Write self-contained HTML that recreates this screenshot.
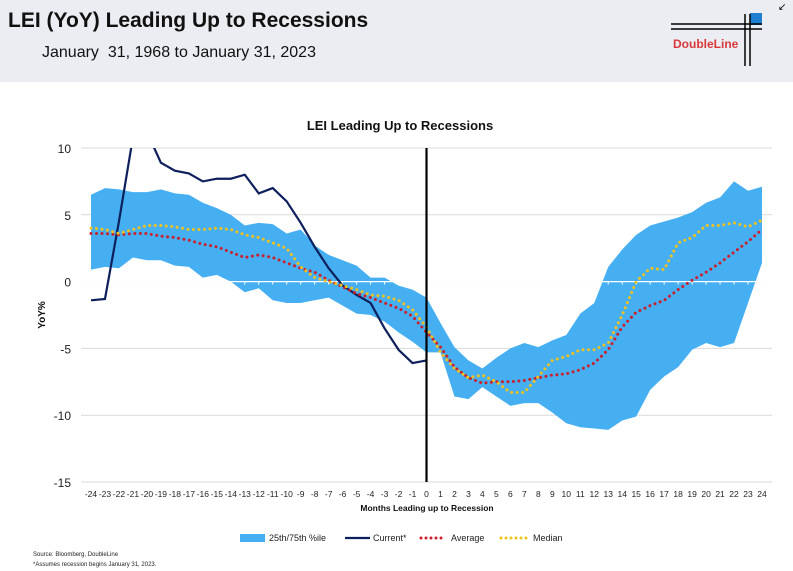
<!DOCTYPE html>
<html><head><meta charset="utf-8">
<style>
body{margin:0;width:793px;height:571px;background:#fff;font-family:"Liberation Sans",Arial,sans-serif;overflow:hidden;position:relative}
#hdr{position:absolute;left:0;top:0;width:793px;height:82px;background:#ebedf2}
#t1{position:absolute;left:8px;top:9px;font-size:21px;font-weight:bold;color:#111}
#t2{position:absolute;left:42px;top:44px;font-size:16px;color:#111}
</style></head><body>
<div id="hdr"></div>
<div id="t1">LEI (YoY) Leading Up to Recessions</div>
<div id="t2">January &nbsp;31, 1968 to January 31, 2023</div>
<svg style="position:absolute;left:660px;top:8px" width="110" height="60">
<rect x="90" y="5" width="12" height="12" fill="#1e7fd0"/>
<line x1="11" y1="16" x2="102" y2="16" stroke="#000" stroke-width="1.5"/>
<line x1="11" y1="21" x2="102" y2="21" stroke="#000" stroke-width="1.5"/>
<line x1="85" y1="6" x2="85" y2="58" stroke="#000" stroke-width="1.5"/>
<line x1="90" y1="6" x2="90" y2="58" stroke="#000" stroke-width="1.5"/>
<text x="13" y="40" font-size="12" font-weight="bold" fill="#d9383a" font-family="Liberation Sans, sans-serif">DoubleLine</text>
</svg>
<div style="position:absolute;left:778px;top:2px;font-size:10px">↙</div>
<svg id="chart" width="793" height="571" style="position:absolute;left:0;top:0"></svg>
<script>
const months=[];for(let m=-24;m<=24;m++)months.push(m);
const yTicks=[10,5,0,-5,-10,-15];
const p75=[6.5,7.0,6.9,6.7,6.7,6.9,6.6,6.5,5.9,5.5,5.0,4.2,4.4,4.3,3.6,3.9,2.7,2.0,1.6,1.2,0.3,0.3,-0.3,-0.6,-1.2,-3.1,-4.9,-5.9,-6.5,-5.7,-5.0,-4.6,-4.9,-4.4,-4.0,-2.4,-1.6,1.1,2.4,3.5,4.2,4.5,4.8,5.2,5.9,6.3,7.5,6.8,7.1];
const p25=[0.9,1.1,1.0,1.8,1.6,1.6,1.2,1.1,0.3,0.5,0.0,-0.8,-0.5,-1.4,-1.6,-1.6,-1.4,-1.2,-1.8,-2.4,-2.5,-3.0,-3.8,-4.5,-5.3,-5.3,-8.6,-8.8,-7.9,-8.6,-9.3,-9.1,-9.1,-9.8,-10.6,-10.9,-11.0,-11.1,-10.4,-10.1,-8.1,-7.1,-6.4,-5.1,-4.6,-4.9,-4.6,-1.6,1.4];
const current=[-1.4,-1.3,4.5,10.8,11.2,8.9,8.3,8.1,7.5,7.7,7.7,8.0,6.6,7.0,6.0,4.4,2.6,1.0,-0.3,-1.0,-1.6,-3.5,-5.1,-6.1,-5.9];
const average=[3.6,3.6,3.5,3.6,3.6,3.4,3.3,3.1,2.8,2.6,2.2,1.8,2.0,1.8,1.4,1.0,0.7,0.1,-0.4,-0.9,-1.2,-1.6,-2.0,-2.6,-3.8,-4.9,-6.4,-7.2,-7.6,-7.5,-7.5,-7.4,-7.2,-7.0,-6.9,-6.6,-6.1,-5.1,-3.4,-2.3,-1.8,-1.4,-0.6,0.1,0.7,1.4,2.2,3.0,3.9];
const median=[4.0,3.9,3.6,3.9,4.2,4.2,4.1,3.9,3.9,4.0,3.9,3.5,3.3,2.9,2.5,1.1,0.3,0.0,-0.3,-0.6,-1.0,-1.1,-1.4,-2.1,-3.4,-5.3,-6.5,-7.2,-7.0,-7.5,-8.3,-8.3,-7.1,-5.9,-5.6,-5.1,-5.1,-4.6,-2.5,0.0,1.0,0.9,2.9,3.3,4.2,4.2,4.4,4.1,4.6];
const NS="http://www.w3.org/2000/svg",svg=document.getElementById('chart');
const X0=91,X1=762,Y0=148,Y1=482;
const xs=m=>X0+(m+24)*(X1-X0)/48;
const ys=v=>Y0+(10-v)*(Y1-Y0)/25;
function mk(t,a,p){const e=document.createElementNS(NS,t);for(const k in a)e.setAttribute(k,a[k]);(p||svg).appendChild(e);return e;}
const defs=mk('defs',{});const cp=mk('clipPath',{id:'pc'},defs);mk('rect',{x:X0-5,y:Y0,width:X1-X0+10,height:Y1-Y0},cp);
yTicks.forEach(v=>{
const g=mk('line',{x1:X0-10,x2:X1+10,y1:ys(v),y2:ys(v),stroke:'#d9d9d9','stroke-width':1});


const t=mk('text',{x:71,y:ys(v)+5,'text-anchor':'end','font-size':12,fill:'#222'});t.textContent=v;


});
let d='';months.forEach((m,i)=>{d+=(i?'L':'M')+xs(m)+','+ys(p75[i]);});
for(let i=months.length-1;i>=0;i--)d+='L'+xs(months[i])+','+ys(p25[i]);
const band=mk('path',{d:d+'Z',fill:'#45aff2'});


const zl=mk('line',{x1:X0-10,x2:X1+10,y1:ys(0),y2:ys(0),stroke:'#fff','stroke-width':1.2});


months.forEach(m=>{const tk=mk('line',{x1:xs(m),x2:xs(m),y1:ys(0),y2:ys(0)+3,stroke:'#fff'});

});
const pts=(arr)=>arr.map((v,i)=>xs(months[i])+','+ys(v)).join(' ');
const cur=mk('polyline',{points:pts(current),fill:'none',stroke:'#0d1f5c','stroke-width':2.2,'clip-path':'url(#pc)'});


const av=mk('polyline',{points:pts(average),fill:'none',stroke:'#cc1f2a','stroke-width':3,'stroke-dasharray':'0 5.5','stroke-linecap':'round'});


const md=mk('polyline',{points:pts(median),fill:'none',stroke:'#f2c21b','stroke-width':3,'stroke-dasharray':'0 5.5','stroke-linecap':'round'});


const rl=mk('line',{x1:xs(0),x2:xs(0),y1:Y0,y2:Y1,stroke:'#000','stroke-width':2.2});


months.forEach(m=>{const t=mk('text',{x:xs(m),y:497,'text-anchor':'middle','font-size':8.5,fill:'#222'});t.textContent=m;

});
function txt(s,a,name){const t=mk('text',a);t.textContent=s;

return t;}
txt('LEI Leading Up to Recessions',{x:400,y:130,'text-anchor':'middle','font-size':13,'font-weight':'bold',fill:'#111'},'chart-title');
txt('YoY%',{x:0,y:0,transform:'translate(45,315) rotate(-90)','text-anchor':'middle','font-size':10,'font-weight':'bold',fill:'#111'},'y-axis-title');
txt('Months Leading up to Recession',{x:427,y:511,'text-anchor':'middle','font-size':8.5,'font-weight':'bold',fill:'#111'},'x-axis-title');
const lg=mk('g',{});


mk('rect',{x:240,y:534,width:25,height:8,fill:'#45aff2'},lg);
txt('25th/75th %ile',{x:269,y:541,'font-size':9,fill:'#222'},'legend-band');
mk('line',{x1:345,x2:370,y1:538,y2:538,stroke:'#0d1f5c','stroke-width':2.2},lg);
txt('Current*',{x:373,y:541,'font-size':9,fill:'#222'},'legend-current');
mk('line',{x1:421,x2:446,y1:538,y2:538,stroke:'#cc1f2a','stroke-width':3,'stroke-dasharray':'0 5','stroke-linecap':'round'},lg);
txt('Average',{x:451,y:541,'font-size':9,fill:'#222'},'legend-average');
mk('line',{x1:501,x2:528,y1:538,y2:538,stroke:'#f2c21b','stroke-width':3,'stroke-dasharray':'0 5','stroke-linecap':'round'},lg);
txt('Median',{x:533,y:541,'font-size':9,fill:'#222'},'legend-median');
txt('Source: Bloomberg, DoubleLine',{x:33,y:556,'font-size':6,fill:'#222'},'source-note');
txt('*Assumes recession begins January 31, 2023.',{x:33,y:566,'font-size':6,fill:'#222'},'footnote');
</script>
</body></html>
